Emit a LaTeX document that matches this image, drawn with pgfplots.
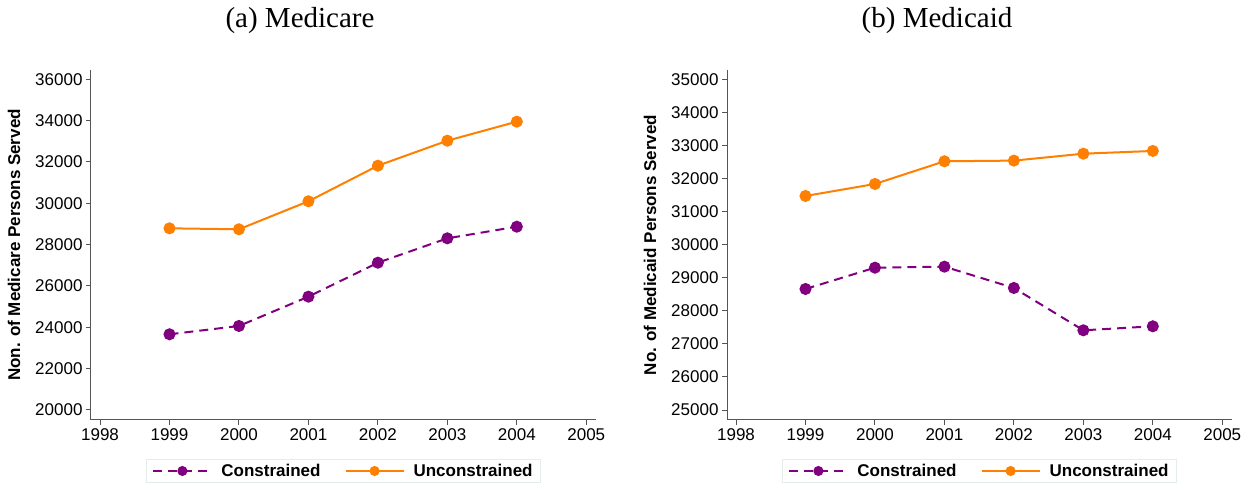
\documentclass[border=0pt]{standalone}
\usepackage{pgfplots}
\pgfplotsset{compat=1.18}
\usepackage{fontspec}
\setmainfont{Liberation Sans}
\newfontfamily\titlefont{Liberation Serif}

\definecolor{constr}{RGB}{128,0,128}
\definecolor{unconstr}{RGB}{255,127,0}
\definecolor{axgray}{RGB}{85,85,85}
\definecolor{legframe}{RGB}{228,236,238}

\pgfplotsset{
  panel/.style={
    scale only axis, width=505pt, height=350pt,
    axis lines=left, axis line style={-, axgray, line width=1pt},
    xmin=1997.87, xmax=2005.14,
    xtick={1998,1999,2000,2001,2002,2003,2004,2005},
    tick align=outside, major tick length=5pt,
    tick style={axgray, line width=1pt},
    scaled ticks=false,
    /pgf/number format/1000 sep={},
    /pgf/number format/assume math mode=true,
    tick label style={font=\fontsize{17}{20}\selectfont, text=black},
    ylabel style={at={(axis description cs:-0.1525,0.5)}, anchor=center,
      font=\bfseries\fontsize{17}{20}\selectfont},
    legend columns=2,
    legend style={at={(0.5,-0.1457)}, anchor=center, draw=legframe, line width=1pt,
      font=\bfseries\fontsize{17}{20}\selectfont, inner xsep=6pt, inner ysep=3pt,
      /tikz/every odd column/.append style={column sep=7pt},
      /tikz/every even column/.append style={column sep=22pt}},
    legend image code/.code={%
      \draw[mark repeat=2, mark phase=2, #1, mark size=4pt]
        plot coordinates {(0pt,0pt) (29pt,0pt) (58pt,0pt)};},
    constrained/.style={constr, line width=2pt, dash pattern=on 9pt off 6pt,
      mark=*, mark size=5pt, mark options={solid}},
    unconstrained/.style={unconstr, line width=2pt, solid, mark=*, mark size=5pt},
  }
}

\begin{document}
\begin{tikzpicture}
\path[use as bounding box] (0pt,0pt) rectangle (1250pt,489pt);

\node[anchor=base, font=\titlefont\fontsize{29}{32}\selectfont] at (300pt,461pt) {(a) Medicare};
\node[anchor=base, font=\titlefont\fontsize{29}{32}\selectfont] at (937pt,461pt) {(b) Medicaid};

% Medicare panel
\begin{axis}[panel, at={(91pt,69pt)}, anchor=south west,
  ymin=19516, ymax=36450,
  ytick={20000,22000,24000,26000,28000,30000,32000,34000,36000},
  ylabel={Non. of Medicare Persons Served}]
\addplot[constrained] coordinates {
  (1999,23663) (2000,24065) (2001,25483) (2002,27127) (2003,28306) (2004,28869)};
\addplot[unconstrained] coordinates {
  (1999,28790) (2000,28743) (2001,30098) (2002,31820) (2003,33030) (2004,33950)};
\legend{Constrained, Unconstrained}
\end{axis}

% Medicaid panel
\begin{axis}[panel, at={(727pt,69pt)}, anchor=south west,
  ymin=24698, ymax=35280,
  ytick={25000,26000,27000,28000,29000,30000,31000,32000,33000,34000,35000},
  ylabel={No. of Medicaid Persons Served}]
\addplot[constrained] coordinates {
  (1999,28659) (2000,29303) (2001,29334) (2002,28690) (2003,27410) (2004,27531)};
\addplot[unconstrained] coordinates {
  (1999,31471) (2000,31834) (2001,32520) (2002,32540) (2003,32750) (2004,32832)};
\legend{Constrained, Unconstrained}
\end{axis}
\end{tikzpicture}
\end{document}
